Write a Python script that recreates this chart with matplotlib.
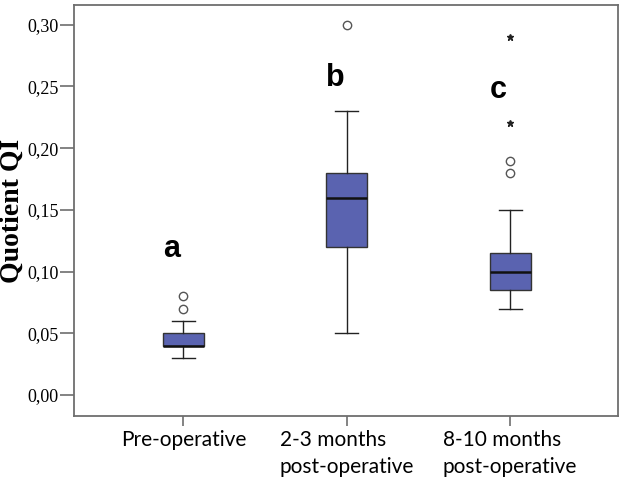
import numpy as np
import matplotlib.pyplot as plt

# groups and box statistics
groups = ["Pre-operative", "2-3 months\npost-operative", "8-10 months\npost-operative"]
whisker_lo = [0.03, 0.05, 0.07]
q1 = [0.04, 0.12, 0.085]
median = [0.04, 0.16, 0.10]
q3 = [0.05, 0.18, 0.115]
whisker_hi = [0.06, 0.23, 0.15]
outliers = [[0.07, 0.08], [0.30], [0.18, 0.19]]
extremes = [[], [], [0.22, 0.29]]
letters = ["a", "b", "c"]
letter_y = [0.112, 0.25, 0.241]

box_color = "#5a63b0"
frame_color = "#6e6e6e"

fig = plt.figure(figsize=(6.24, 4.8), dpi=100)
ax = fig.add_axes([74 / 624, 64 / 480, 544 / 624, 411 / 480])

pos = np.arange(1, len(groups) + 1)
stats = []
for i in range(len(groups)):
    stats.append(dict(whislo=whisker_lo[i], q1=q1[i], med=median[i], q3=q3[i],
                      whishi=whisker_hi[i], fliers=outliers[i]))

ax.bxp(stats, positions=pos, widths=0.25, patch_artist=True, showfliers=True,
       boxprops=dict(facecolor=box_color, edgecolor="#333333", linewidth=1.0),
       medianprops=dict(color="#111111", linewidth=1.8),
       whiskerprops=dict(color="#222222", linewidth=1.0),
       capprops=dict(color="#222222", linewidth=1.0),
       capwidths=0.14,
       flierprops=dict(marker="o", markersize=6, markerfacecolor="white",
                       markeredgecolor="#555555", markeredgewidth=1.0))

for i, ex in enumerate(extremes):
    if ex:
        ax.plot([pos[i]] * len(ex), ex, linestyle="none", marker="*",
                markersize=4.5, color="#222222")

for i, lab in enumerate(letters):
    ax.text(pos[i] - 0.07, letter_y[i], lab, ha="center", va="baseline",
            fontsize=22, fontweight="bold", family="Liberation Sans")

ax.set_xlim(0.33, 3.66)
ax.set_ylim(-0.017, 0.316)
ax.set_yticks([0.0, 0.05, 0.10, 0.15, 0.20, 0.25, 0.30])
ax.set_yticklabels(["0,00", "0,05", "0,10", "0,15", "0,20", "0,25", "0,30"],
                   family="Liberation Serif", fontsize=13)
ax.set_xticks(pos)
ax.set_xticklabels(groups, family="Lato", fontsize=15, multialignment="left",
                   linespacing=1.45)

ax.tick_params(axis="y", length=10, width=1.2, color=frame_color, pad=1)
ax.tick_params(axis="x", length=7, width=1.2, color=frame_color, pad=3)
for s in ax.spines.values():
    s.set_color(frame_color)
    s.set_linewidth(1.3)

ax.set_ylabel("Quotient QI", family="Liberation Serif", fontweight="bold",
              fontsize=20, labelpad=2)

fig.savefig("out.png", dpi=100)
